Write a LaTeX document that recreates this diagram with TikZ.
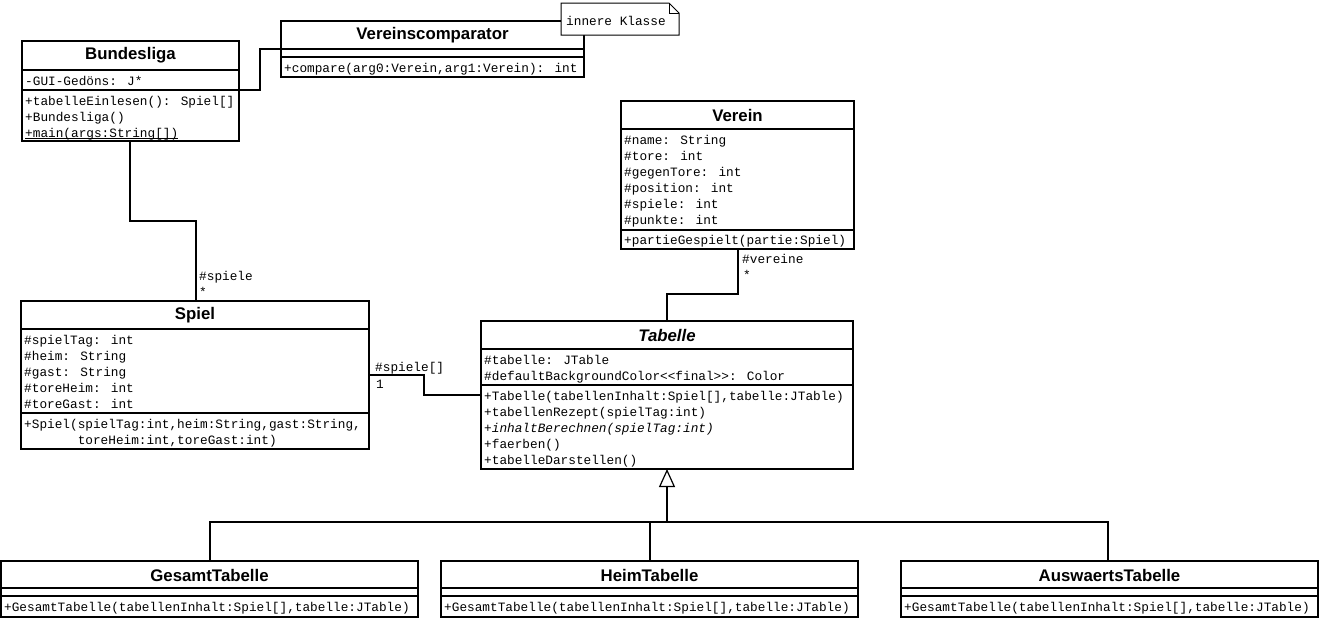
\documentclass[tikz,border=0pt]{standalone}
\usepackage{fontspec}
\setmainfont{Liberation Sans}
\newfontfamily\monof{Liberation Mono}
\usetikzlibrary{arrows.meta}
\newcommand\ulmono[1]{\setbox0\hbox{#1}\rlap{\rule[-1.6pt]{\wd0}{0.9pt}}\box0}
\tikzset{
  cls/.style={draw, line width=1.8pt, fill=white, inner sep=0pt, outer sep=0pt, anchor=north west},
  ttl/.style={font=\fontsize{16.8}{19}\selectfont\bfseries, inner sep=0pt},
  mono/.style={font=\monof\fontsize{12.75}{16}\selectfont, inner sep=0pt, anchor=north west, align=left},
  lbl/.style={font=\monof\fontsize{12.75}{16}\selectfont, inner sep=0pt, anchor=west},
  conn/.style={line width=1.8pt},
  sep/.style={line width=1.8pt},
}
\begin{document}
\begin{tikzpicture}[x=1pt,y=-1pt]
\fill[white] (0,0) rectangle (1322,619);
\useasboundingbox (0,0) rectangle (1322,619);

% Bundesliga
\node[cls, minimum width=217pt, minimum height=100pt] (bund) at (22,41) {};
\draw[sep] (bund.west |- 0,70) -- (bund.east |- 0,70);
\draw[sep] (bund.west |- 0,90) -- (bund.east |- 0,90);
\node[ttl] (bundT) at (130.5,55.5) {Bundesliga};
\node[mono] (bundA) at (25,73.8) {\strut-GUI-Gedöns: J*};
\node[mono] (bundO) at (25,93.8) {\strut+tabelleEinlesen(): Spiel[]\\\strut+Bundesliga()\\\strut\ulmono{+main(args:String[])}};

% Vereinscomparator
\node[cls, minimum width=303pt, minimum height=56pt] (vc) at (281,21) {};
\draw[sep] (vc.west |- 0,49) -- (vc.east |- 0,49);
\draw[sep] (vc.west |- 0,57) -- (vc.east |- 0,57);
\node[ttl] (vcT) at (432.5,35) {Vereinscomparator};
\node[mono] (vcO) at (284,60.8) {\strut+compare(arg0:Verein,arg1:Verein): int};

% note
\node[minimum width=118pt, minimum height=32pt, inner sep=0pt, outer sep=0pt] (note) at (620,19) {};
\draw[fill=white, line width=1pt] (note.north west) -- ([xshift=-10pt]note.north east) -- ([yshift=-10pt]note.north east) -- (note.south east) -- (note.south west) -- cycle;
\draw[line width=1pt] ([xshift=-10pt]note.north east) -- ([xshift=-10pt,yshift=-10pt]note.north east) -- ([yshift=-10pt]note.north east);
\node[lbl] (noteT) at (566,21) {innere Klasse};

% Spiel
\node[cls, minimum width=348pt, minimum height=148pt] (spiel) at (21,301) {};
\draw[sep] (spiel.west |- 0,329) -- (spiel.east |- 0,329);
\draw[sep] (spiel.west |- 0,413) -- (spiel.east |- 0,413);
\node[ttl] (spielT) at (195,315) {Spiel};
\node[mono] (spielA) at (24,332.8) {\strut\#spielTag: int\\\strut\#heim: String\\\strut\#gast: String\\\strut\#toreHeim: int\\\strut\#toreGast: int};
\node[mono] (spielO) at (24,416.8) {\strut+Spiel(spielTag:int,heim:String,gast:String,\\\strut\phantom{+Spiel(}toreHeim:int,toreGast:int)};

% Verein
\node[cls, minimum width=233pt, minimum height=148pt] (verein) at (621,101) {};
\draw[sep] (verein.west |- 0,129) -- (verein.east |- 0,129);
\draw[sep] (verein.west |- 0,230) -- (verein.east |- 0,230);
\node[ttl] (vereinT) at (737.5,115) {Verein};
\node[mono] (vereinA) at (624,132.8) {\strut\#name: String\\\strut\#tore: int\\\strut\#gegenTore: int\\\strut\#position: int\\\strut\#spiele: int\\\strut\#punkte: int};
\node[mono] (vereinO) at (624,232.8) {\strut+partieGespielt(partie:Spiel)};

% Tabelle
\node[cls, minimum width=372pt, minimum height=148pt] (tab) at (481,321) {};
\draw[sep] (tab.west |- 0,349) -- (tab.east |- 0,349);
\draw[sep] (tab.west |- 0,385) -- (tab.east |- 0,385);
\node[ttl, font=\fontsize{16.8}{19}\selectfont\bfseries\itshape] (tabT) at (667,335) {Tabelle};
\node[mono] (tabA) at (484,352.8) {\strut\#tabelle: JTable\\\strut\#defaultBackgroundColor<\kern0pt<final>\kern0pt>: Color};
\node[mono] (tabO) at (484,388.8) {\strut+Tabelle(tabellenInhalt:Spiel[],tabelle:JTable)\\\strut+tabellenRezept(spielTag:int)\\\strut{\itshape +inhaltBerechnen(spielTag:int)}\\\strut+faerben()\\\strut+tabelleDarstellen()};

% subclasses
\node[cls, minimum width=417pt, minimum height=56pt] (gt) at (1,561) {};
\draw[sep] (gt.west |- 0,588) -- (gt.east |- 0,588);
\draw[sep] (gt.west |- 0,596) -- (gt.east |- 0,596);
\node[ttl] (gtT) at (209.5,575) {GesamtTabelle};
\node[mono] (gtO) at (4,599.8) {\strut+GesamtTabelle(tabellenInhalt:Spiel[],tabelle:JTable)};

\node[cls, minimum width=417pt, minimum height=56pt] (ht) at (441,561) {};
\draw[sep] (ht.west |- 0,588) -- (ht.east |- 0,588);
\draw[sep] (ht.west |- 0,596) -- (ht.east |- 0,596);
\node[ttl] (htT) at (649.5,575) {HeimTabelle};
\node[mono] (htO) at (444,599.8) {\strut+GesamtTabelle(tabellenInhalt:Spiel[],tabelle:JTable)};

\node[cls, minimum width=417pt, minimum height=56pt] (at) at (901,561) {};
\draw[sep] (at.west |- 0,588) -- (at.east |- 0,588);
\draw[sep] (at.west |- 0,596) -- (at.east |- 0,596);
\node[ttl] (atT) at (1109.5,575) {AuswaertsTabelle};
\node[mono] (atO) at (904,599.8) {\strut+GesamtTabelle(tabellenInhalt:Spiel[],tabelle:JTable)};

% connectors
\draw[conn] (bund.east |- 0,90) -- ++(21,0) |- (vc.west |- 0,49);
\draw[conn] (bund.south -| 130,0) -- ++(0,80) -| (spiel.north -| 196,0);
\draw[conn] (spiel.east |- 0,375) -| ++(55,20) -- (tab.west |- 0,395);
\draw[conn] (verein.south -| 738,0) -- ++(0,45) -| (tab.north -| 667,0);

\coordinate (gj) at (667,522);
\draw[conn] (gt.north -| 210,0) |- (gj);
\draw[conn] (at.north -| 1108,0) |- (gj);
\draw[conn] (ht.north -| 650,0) |- (gj);
\draw[conn, -{Triangle[open, length=18pt, width=16pt, line width=1.2pt]}] (gj) -- (tab.south -| 667,0);

% labels
\node[lbl] (l1) at (199,277) {\#spiele};
\node[lbl] (l2) at (199,292) {*};
\node[lbl] (l3) at (375,368) {\#spiele[]};
\node[lbl] (l4) at (376,384) {1};
\node[lbl] (l5) at (742,259) {\#vereine};
\node[lbl] (l6) at (743,275) {*};
\end{tikzpicture}
\end{document}
